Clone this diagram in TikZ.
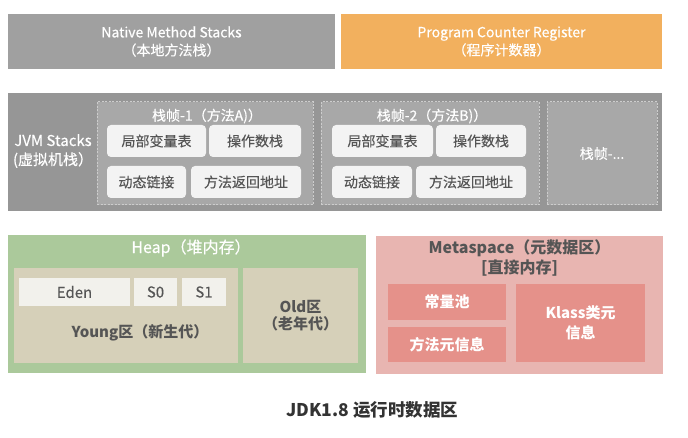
\documentclass[tikz,border=0pt]{standalone}
\usepackage{fontspec}
\setmainfont{Noto Sans CJK SC}[UprightFeatures={FakeBold=0.35}]
\definecolor{nativegray}{RGB}{160,160,160}
\definecolor{pcorange}{RGB}{242,176,94}
\definecolor{stackgray}{RGB}{150,150,150}
\definecolor{framefill}{RGB}{168,168,168}
\definecolor{framedash}{RGB}{205,205,205}
\definecolor{cellfill}{RGB}{243,243,243}
\definecolor{heapgreen}{RGB}{171,201,155}
\definecolor{genbeige}{RGB}{214,208,185}
\definecolor{edenfill}{RGB}{242,241,236}
\definecolor{metapink}{RGB}{232,181,177}
\definecolor{metasalmon}{RGB}{229,145,138}
\definecolor{labelgray}{RGB}{85,85,85}
\begin{document}
\begin{tikzpicture}[
    x=1pt, y=-1pt,
    area/.style={
        rectangle,
        inner sep=0pt,
        align=center,
        text=white,
        font=\fontsize{14}{18}\selectfont
    },
    frame/.style={
        area,
        draw=framedash,
        fill=framefill,
        line width=1pt,
        dash pattern=on 2pt off 1.5pt
    },
    cell/.style={
        area,
        fill=cellfill,
        rounded corners=4pt,
        text=labelgray,
        minimum height=32pt
    },
    gen/.style={
        area,
        fill=genbeige,
        text=labelgray,
        minimum height=95pt,
        font=\fontsize{15}{17}\selectfont\bfseries
    },
    part/.style={
        area,
        fill=edenfill,
        text=labelgray,
        minimum height=28pt,
        font=\fontsize{15}{17}\selectfont
    },
    meta/.style={
        area,
        fill=metasalmon,
        font=\fontsize{15}{20}\selectfont\bfseries
    },
    title/.style={
        inner sep=0pt,
        align=center,
        font=\fontsize{14}{20}\selectfont
    }
]
\useasboundingbox (0,0) rectangle (688,438);

\node[area, fill=nativegray, minimum width=327pt, minimum height=55pt] (native) at (171.5,41.5) {Native Method Stacks\\（本地方法栈）};
\node[area, fill=pcorange, minimum width=321pt, minimum height=55pt] (pc) at (501.5,41.5) {Program Counter Register\\（程序计数器）};

\node[area, fill=stackgray, minimum width=654pt, minimum height=118pt] (jvm) at (335,152) {};
\node[title, text=white, font=\fontsize{15}{19}\selectfont] (jvmlabel) at (53,151) {JVM Stacks\\(虚拟机栈）};

\node[frame, minimum width=216pt, minimum height=103pt] (frame1) at (205,153.5) {};
\node[title, text=white] (frame1title) at (207,116) {栈帧-1（方法A)）};
\node[cell, minimum width=99pt] (local1) at (156.5,141) {局部变量表};
\node[cell, minimum width=92pt] (operand1) at (255,141) {操作数栈};
\node[cell, minimum width=79pt] (link1) at (146.5,182) {动态链接};
\node[cell, minimum width=110pt] (return1) at (246,182) {方法返回地址};

\node[frame, minimum width=218pt, minimum height=103pt] (frame2) at (430,153.5) {};
\node[title, text=white] (frame2title) at (432,116) {栈帧-2（方法B)）};
\node[cell, minimum width=101pt] (local2) at (382.5,141) {局部变量表};
\node[cell, minimum width=90pt] (operand2) at (481,141) {操作数栈};
\node[cell, minimum width=80pt] (link2) at (372,182) {动态链接};
\node[cell, minimum width=110pt] (return2) at (471,182) {方法返回地址};

\node[frame, minimum width=110pt, minimum height=103pt] (frame3) at (602,153.5) {栈帧-...};

\node[area, fill=heapgreen, minimum width=358pt, minimum height=138pt] (heap) at (187,304) {};
\node[title, text=white, font=\fontsize{16}{20}\selectfont] (heaptitle) at (191,248) {Heap（堆内存）};
\node[gen, minimum width=224pt] (young) at (126,315.5) {};
\node[title, text=labelgray, font=\fontsize{15}{20}\selectfont\bfseries] (younglabel) at (140,333) {Young区（新生代）};
\node[gen, minimum width=115pt] (old) at (300.5,315.5) {Old区\\（老年代）};
\node[part, minimum width=111pt] (eden) at (74.5,292) {Eden};
\node[part, minimum width=43pt] (s0) at (155.5,292) {S0};
\node[part, minimum width=44pt] (s1) at (204,292) {S1};

\node[area, fill=metapink, minimum width=287pt, minimum height=138pt] (metaspace) at (519.5,305) {};
\node[title, text=labelgray, font=\fontsize{16}{20}\selectfont\bfseries] (metatitle) at (519.5,258) {Metaspace（元数据区）\\{[}直接内存{]}};
\node[meta, minimum width=118pt, minimum height=36pt] (pool) at (447,302) {常量池};
\node[meta, minimum width=118pt, minimum height=35pt] (method) at (447,344.5) {方法元信息};
\node[meta, minimum width=129pt, minimum height=78pt] (klass) at (580.5,323) {Klass类元\\信息};

\node[title, text=black!80, font=\fontsize{17.5}{22}\selectfont\bfseries] (caption) at (372.5,410) {JDK1.8 运行时数据区};

\end{tikzpicture}
\end{document}
